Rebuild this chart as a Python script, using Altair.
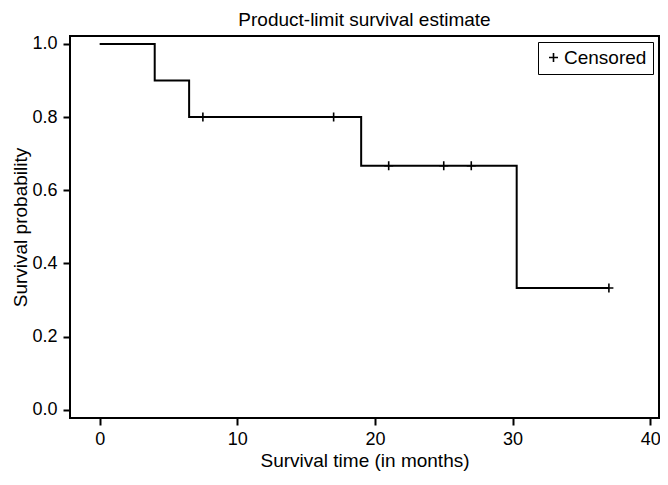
import altair as alt
import pandas as pd

# Kaplan-Meier step curve (event times and survival after each step)
step_time = [0, 4, 6.5, 19, 30.3, 37]
step_surv = [1.0, 0.9, 0.8, 0.667, 0.333, 0.333]

# Censored observations
cens_time = [7.5, 17, 21, 25, 27, 37]
cens_surv = [0.8, 0.8, 0.667, 0.667, 0.667, 0.333]

x_ticks = [0, 10, 20, 30, 40]
y_ticks = [0.0, 0.2, 0.4, 0.6, 0.8, 1.0]

FONT = "Liberation Sans"
CROSS = "M-1,0L1,0M0,-1L0,1"

steps = pd.DataFrame({"t": step_time, "s": step_surv})
cens = pd.DataFrame({"t": cens_time, "s": cens_surv, "k": ["Censored"] * len(cens_time)})

xs = alt.Scale(domain=[-2.155, 40.64], nice=False, zero=False)
ys = alt.Scale(domain=[-0.0224, 1.0216], nice=False, zero=False)

xax = alt.Axis(values=x_ticks, title="Survival time (in months)", format="d", grid=False)
yax = alt.Axis(values=y_ticks, title="Survival probability", format=".1f", grid=False)

line = alt.Chart(steps).mark_line(interpolate="step-after", color="black", strokeWidth=2).encode(
    x=alt.X("t:Q", scale=xs, axis=xax),
    y=alt.Y("s:Q", scale=ys, axis=yax),
)

marks = alt.Chart(cens).mark_point(shape=CROSS, filled=False, size=81, strokeWidth=1.6, opacity=1).encode(
    x=alt.X("t:Q", scale=xs),
    y=alt.Y("s:Q", scale=ys),
    color=alt.Color(
        "k:N",
        scale=alt.Scale(range=["black"]),
        legend=alt.Legend(
            title=None,
            orient="top-right",
            offset=6,
            symbolType=CROSS,
            symbolSize=81,
            symbolStrokeWidth=1.6,
            symbolStrokeColor="black",
            labelFontSize=19,
            labelFont=FONT,
            labelColor="black",
            labelOffset=1,
            padding=6,
            strokeColor="black",
            fillColor="white",
        ),
    ),
)

chart = (
    alt.layer(line, marks)
    .properties(
        width=589,
        height=382,
        padding={"left": 62, "top": 28, "right": 1, "bottom": 59},
        autosize=alt.AutoSizeParams(type="none"),
        title=alt.TitleParams(
            "Product-limit survival estimate",
            font=FONT,
            fontSize=19,
            fontWeight="normal",
            color="black",
            anchor="middle",
            offset=5,
        ),
    )
    .configure_view(stroke="black", strokeWidth=2)
    .configure_axis(
        domain=False,
        ticks=True,
        tickColor="black",
        tickWidth=2,
        tickSize=7,
        labelFont=FONT,
        labelFontSize=18,
        labelColor="black",
        titleFont=FONT,
        titleFontSize=19,
        titleFontWeight="normal",
        titleColor="black",
    )
    .configure_axisX(labelPadding=5, titlePadding=3)
    .configure_axisY(labelPadding=6, titlePadding=1)
)

chart.save("out.html", embed_options={"renderer": "svg", "actions": False})
